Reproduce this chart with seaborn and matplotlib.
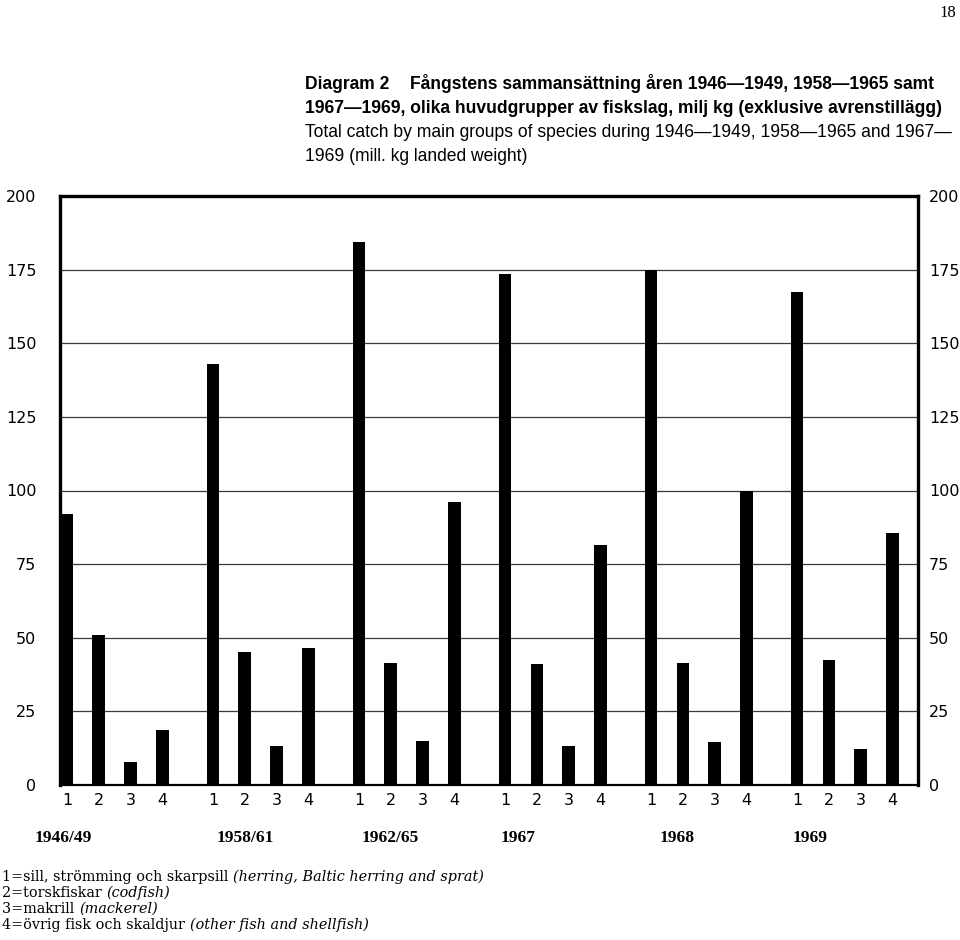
import matplotlib
matplotlib.use("Agg")
import matplotlib.pyplot as plt
import pandas as pd
import seaborn as sns

# ---------------- data ----------------
periods = ["1946/49", "1958/61", "1962/65", "1967", "1968", "1969"]
species = ["1", "2", "3", "4"]
herring = [92, 143, 184.5, 173.5, 175, 167.5]      # 1 = sill, strömming och skarpsill
codfish = [51, 45.2, 41.4, 41.2, 41.5, 42.4]       # 2 = torskfiskar
mackerel = [7.7, 13.4, 14.8, 13.3, 14.6, 12.2]     # 3 = makrill
other = [18.6, 46.6, 96, 81.6, 100, 85.7]          # 4 = övrig fisk och skaldjur
yticks = [0, 25, 50, 75, 100, 125, 150, 175, 200]

title_l1a = "Diagram 2"
title_l1b = "Fångstens sammansättning åren 1946—1949, 1958—1965 samt"
title_l2 = "1967—1969, olika huvudgrupper av fiskslag, milj kg (exklusive avrenstillägg)"
sub_l1 = "Total catch by main groups of species during 1946—1949, 1958—1965 and 1967—"
sub_l2 = "1969 (mill. kg landed weight)"
legend_plain = ["1=sill, strömming och skarpsill ", "2=torskfiskar ", "3=makrill ",
                "4=övrig fisk och skaldjur "]
legend_italic = ["(herring, Baltic herring and sprat)", "(codfish)", "(mackerel)",
                 "(other fish and shellfish)"]
page_no = "18"

# ---------------- layout ----------------
GROUP_STEP = 4.59
series = [herring, codfish, mackerel, other]
rows = []
for gi, period in enumerate(periods):
    for si, sp in enumerate(species):
        rows.append({"period": period, "species": sp,
                     "pos": gi * GROUP_STEP + si, "value": series[si][gi]})
df = pd.DataFrame(rows)

sns.set_style("white")
plt.rcParams["font.family"] = ["DejaVu Sans"]
plt.rcParams["text.color"] = "black"
plt.rcParams["xtick.color"] = "black"
plt.rcParams["ytick.color"] = "black"
plt.rcParams["axes.labelcolor"] = "black"

W, H = 960, 940
fig = plt.figure(figsize=(W / 100, H / 100), dpi=100)


def fx(x):
    return x / W


def fy(y):
    return 1 - y / H


ax = fig.add_axes([fx(60), fy(785), fx(918 - 60), (785 - 196) / H])
sns.barplot(data=df, x="pos", y="value", native_scale=True, color="black",
            saturation=1, width=0.4, errorbar=None, ax=ax, zorder=3,
            edgecolor="black", linewidth=0)
ax.set_xlim(-0.22, 5 * GROUP_STEP + 3 + 0.8)
ax.set_ylim(0, 200)
ax.set_xlabel("")
ax.set_ylabel("")
ax.set_xticks(df["pos"].tolist())
ax.set_xticklabels(df["species"].tolist())
ax.set_yticks(yticks)
ax.set_yticklabels([str(v) for v in yticks])
ax.yaxis.grid(True, color="#3a3a3a", lw=0.9)
ax.xaxis.grid(False)
ax.set_axisbelow(True)
for lab in ax.get_xticklabels() + ax.get_yticklabels():
    lab.set_fontfamily("DejaVu Sans")
    lab.set_fontsize(11.5)
    lab.set_color("black")
ax.tick_params(axis="y", length=0, pad=17)
ax.tick_params(axis="x", length=0, pad=6)
for side in ["left", "top", "right"]:
    ax.spines[side].set_linewidth(2.4)
    ax.spines[side].set_color("black")
ax.spines["bottom"].set_linewidth(1.6)
ax.spines["bottom"].set_color("black")

ax2 = ax.twinx()
ax2.set_ylim(0, 200)
ax2.set_yticks(yticks)
ax2.set_yticklabels([str(v) for v in yticks], fontsize=11.5, fontfamily="DejaVu Sans",
                    color="black")
ax2.tick_params(axis="y", length=0, pad=8)
for s in ax2.spines.values():
    s.set_visible(False)

# group labels
group_label_x = [35, 217, 362, 501, 660, 793]
for lab, x in zip(periods, group_label_x):
    fig.text(fx(x), fy(842), lab, family="Liberation Serif", fontsize=12.5,
             fontweight="bold", ha="left", va="baseline")

# title
tf = "Liberation Sans"
ts = 12.65
fig.text(fx(305), fy(89), title_l1a, family=tf, fontsize=ts, fontweight="bold",
         va="baseline")
fig.text(fx(410), fy(89), title_l1b, family=tf, fontsize=ts, fontweight="bold",
         va="baseline")
fig.text(fx(305), fy(113), title_l2, family=tf, fontsize=ts, fontweight="bold",
         va="baseline")
fig.text(fx(305), fy(137), sub_l1, family=tf, fontsize=ts, va="baseline")
fig.text(fx(305), fy(161), sub_l2, family=tf, fontsize=ts, va="baseline")
fig.text(fx(956), fy(17), page_no, family="Liberation Serif", fontsize=12,
         ha="right", va="baseline")

# legend
lf = "DejaVu Serif"
ls = 10.4
for i, (p, it) in enumerate(zip(legend_plain, legend_italic)):
    t1 = fig.text(fx(2), fy(884 + 16 * i), p, family=lf,
                  fontsize=ls, va="bottom", ha="left")
    ax.annotate(it, xy=(1, 0), xycoords=t1, va="bottom", ha="left",
                family=lf, style="italic", fontsize=ls,
                annotation_clip=False)

fig.savefig("out.png", dpi=100, facecolor="white")
